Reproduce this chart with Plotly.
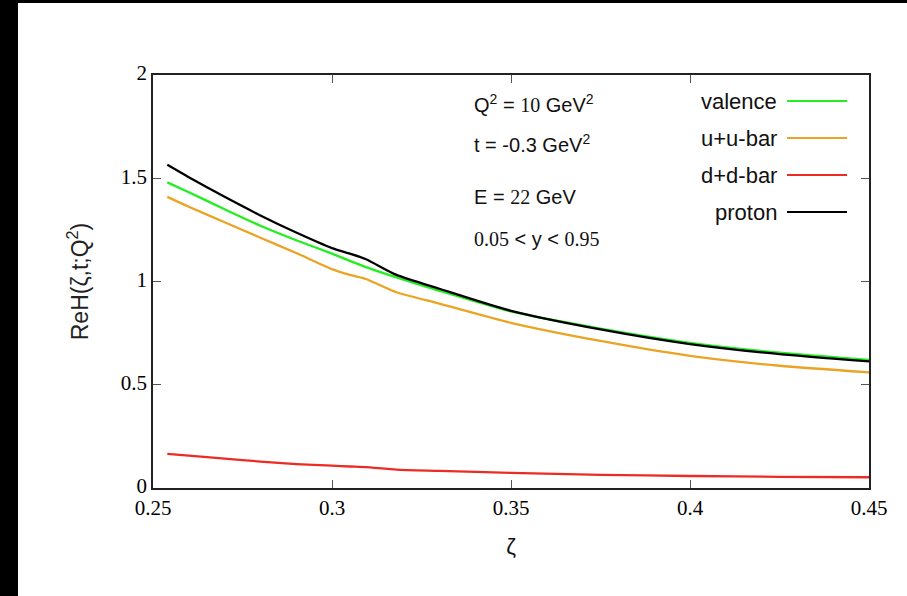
import plotly.graph_objects as go

# ζ grid and ReH(ζ,t;Q²) for each contribution
zeta = [0.254, 0.26, 0.27, 0.28, 0.29, 0.30, 0.305, 0.3095, 0.318, 0.33,
        0.35, 0.375, 0.40, 0.425, 0.45]
valence = [1.48, 1.432, 1.35, 1.27, 1.20, 1.135, 1.10, 1.07, 1.02, 0.955,
           0.855, 0.772, 0.703, 0.655, 0.62]
u_ubar = [1.41, 1.362, 1.287, 1.212, 1.138, 1.06, 1.032, 1.012, 0.948, 0.893,
          0.80, 0.712, 0.64, 0.592, 0.56]
d_dbar = [0.165, 0.157, 0.142, 0.128, 0.116, 0.108, 0.104, 0.101, 0.089, 0.083,
          0.073, 0.064, 0.058, 0.054, 0.052]
proton = [1.565, 1.505, 1.41, 1.32, 1.237, 1.162, 1.135, 1.108, 1.032, 0.965,
          0.858, 0.768, 0.697, 0.648, 0.613]

series = [
    ("valence", valence, "#22ee22"),
    ("u+u-bar", u_ubar, "#eba324"),
    ("d+d-bar", d_dbar, "#ee2b22"),
    ("proton", proton, "#000000"),
]

x_ticks = [0.25, 0.3, 0.35, 0.4, 0.45]
x_tick_text = ["0.25", "0.3", "0.35", "0.4", "0.45"]
y_ticks = [0, 0.5, 1, 1.5, 2]
y_tick_text = ["0", "0.5", "1", "1.5", "2"]

W, H = 907, 596
L, R, T, B = 153, 869, 75, 488

def px(xp):
    return (xp - L) / (R - L)

def py(yp):
    return (B - yp) / (B - T)

fig = go.Figure()
for name, vals, col in series:
    fig.add_trace(go.Scatter(x=zeta, y=vals, mode="lines", name=name,
                             line=dict(color=col, width=2.3, shape="spline", smoothing=0.6),
                             showlegend=False))

serif = "Liberation Serif, Times New Roman, serif"
sans = "Liberation Sans, Arial, Helvetica, sans-serif"

axis_common = dict(showline=True, linecolor="#222", linewidth=1.5, mirror="allticks",
                   ticks="inside", ticklen=8, tickwidth=1, tickcolor="#555",
                   showgrid=False, zeroline=False,
                   tickfont=dict(family=serif, size=21, color="#000"))

fig.update_layout(
    width=W, height=H,
    margin=dict(l=L, r=W - R, t=T, b=H - B),
    paper_bgcolor="white", plot_bgcolor="white",
    xaxis=dict(range=[0.25, 0.45], tickvals=x_ticks, ticktext=x_tick_text,
               title=dict(text="ζ", font=dict(family=sans, size=22, color="#111"), standoff=20),
               **axis_common),
    yaxis=dict(range=[0, 2], tickvals=y_ticks, ticktext=y_tick_text,
               title=dict(text="ReH(ζ,t;Q<sup>2</sup>)", font=dict(family=sans, size=23, color="#222"),
                          standoff=26),
               ticklabelshift=-2,
               **axis_common),
)

# dark strips along the left and top edges of the page
fig.add_shape(type="rect", xref="paper", yref="paper", x0=px(0), x1=px(18), y0=py(H), y1=py(0),
              fillcolor="black", line=dict(width=0), layer="above")
fig.add_shape(type="rect", xref="paper", yref="paper", x0=px(0), x1=px(W), y0=py(3), y1=py(0),
              fillcolor="black", line=dict(width=0), layer="above")

# kinematic settings
num = f"font-family:{serif}"
kin = [
    (f"Q<sup>2</sup> = <span style='{num}'>10</span> GeV<sup>2</sup>", 104),
    ("t = -0.3 GeV<sup>2</sup>", 143),
    (f"E = <span style='{num}'>22</span> GeV", 197),
    (f"<span style='{num}'>0.05</span> &lt; y &lt; <span style='{num}'>0.95</span>", 239),
]
for txt, yp in kin:
    fig.add_annotation(text=txt, xref="paper", yref="paper", x=px(472), y=py(yp),
                       xanchor="left", yanchor="middle", showarrow=False,
                       font=dict(family=sans, size=20, color="#111"))

# legend: label on the left, line sample on the right
leg_y = [101, 138, 175, 212]
for (name, vals, col), yp in zip(series, leg_y):
    fig.add_annotation(text=name, xref="paper", yref="paper", x=px(779), y=py(yp),
                       xanchor="right", yanchor="middle", showarrow=False,
                       font=dict(family=sans, size=22, color="#111"))
    fig.add_shape(type="line", xref="paper", yref="paper", x0=px(787), x1=px(847),
                  y0=py(yp), y1=py(yp), line=dict(color=col, width=2))

fig.write_html("out.html")
